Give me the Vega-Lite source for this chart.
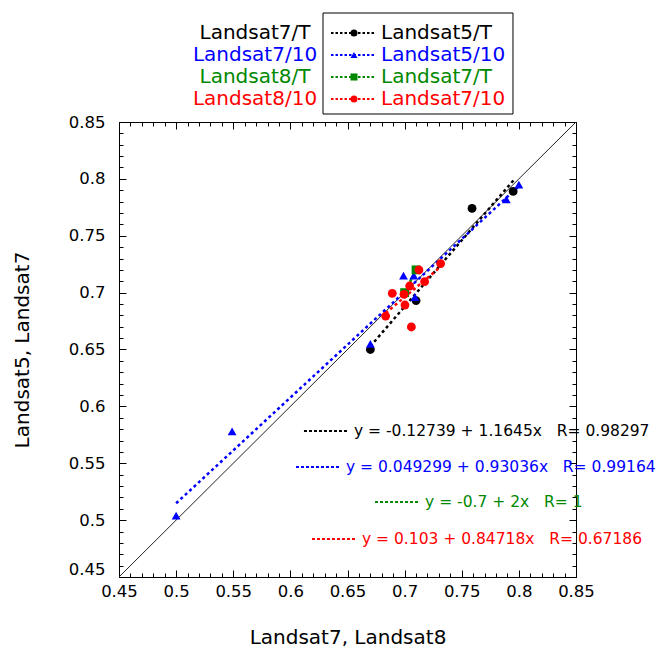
{
  "$schema": "https://vega.github.io/schema/vega-lite/v6.json",
  "background": "white",
  "padding": {"left": 12, "top": 12, "right": 0, "bottom": 0},
  "spacing": 8,
  "bounds": "flush",
  "config": {
    "view": {"stroke": null},
    "font": "DejaVu Sans",
    "axis": {"domainColor": "black", "tickColor": "black", "labelColor": "black", "titleColor": "black", "grid": false, "labelFont": "DejaVu Sans", "titleFont": "DejaVu Sans", "titleFontWeight": "normal", "domainWidth": 1, "tickWidth": 1}
  },
  "datasets": {
    "legend": [
      {"row": 1, "series": "Landsat5/T", "xname": "Landsat7/T"},
      {"row": 2, "series": "Landsat5/10", "xname": "Landsat7/10"},
      {"row": 3, "series": "Landsat7/T", "xname": "Landsat8/T"},
      {"row": 4, "series": "Landsat7/10", "xname": "Landsat8/10"}
    ],
    "points": [
      {"series": "Landsat5/T", "x": 0.67, "y": 0.65},
      {"series": "Landsat5/T", "x": 0.71, "y": 0.693},
      {"series": "Landsat5/T", "x": 0.759, "y": 0.774},
      {"series": "Landsat5/T", "x": 0.795, "y": 0.789},
      {"series": "Landsat5/10", "x": 0.5, "y": 0.504},
      {"series": "Landsat5/10", "x": 0.549, "y": 0.578},
      {"series": "Landsat5/10", "x": 0.67, "y": 0.655},
      {"series": "Landsat5/10", "x": 0.699, "y": 0.715},
      {"series": "Landsat5/10", "x": 0.708, "y": 0.715},
      {"series": "Landsat5/10", "x": 0.709, "y": 0.696},
      {"series": "Landsat5/10", "x": 0.789, "y": 0.782},
      {"series": "Landsat5/10", "x": 0.8, "y": 0.795},
      {"series": "Landsat7/T", "x": 0.7, "y": 0.7},
      {"series": "Landsat7/T", "x": 0.71, "y": 0.72},
      {"series": "Landsat7/10", "x": 0.7125, "y": 0.72},
      {"series": "Landsat7/10", "x": 0.7315, "y": 0.7255},
      {"series": "Landsat7/10", "x": 0.7175, "y": 0.7096},
      {"series": "Landsat7/10", "x": 0.7044, "y": 0.7058},
      {"series": "Landsat7/10", "x": 0.6892, "y": 0.6994},
      {"series": "Landsat7/10", "x": 0.6995, "y": 0.6985},
      {"series": "Landsat7/10", "x": 0.7003, "y": 0.6891},
      {"series": "Landsat7/10", "x": 0.6834, "y": 0.6794},
      {"series": "Landsat7/10", "x": 0.7059, "y": 0.6698}
    ],
    "fits": [
      {"series": "Landsat5/T", "x": 0.67, "y": 0.65283},
      {"series": "Landsat5/T", "x": 0.796, "y": 0.79955},
      {"series": "Landsat5/10", "x": 0.5, "y": 0.51482},
      {"series": "Landsat5/10", "x": 0.8, "y": 0.79359},
      {"series": "Landsat7/T", "x": 0.7, "y": 0.7},
      {"series": "Landsat7/T", "x": 0.71, "y": 0.72},
      {"series": "Landsat7/10", "x": 0.6834, "y": 0.68196},
      {"series": "Landsat7/10", "x": 0.7315, "y": 0.72272}
    ],
    "identity": [{"x": 0.45, "y": 0.45}, {"x": 0.85, "y": 0.85}],
    "notes": [
      {"series": "Landsat5/T", "ax": 0.6119, "ay": 0.57835, "label": "y = -0.12739 + 1.1645x\u00a0\u00a0\u00a0R= 0.98297"},
      {"series": "Landsat5/10", "ax": 0.6049, "ay": 0.5467, "label": "y = 0.049299 + 0.93036x\u00a0\u00a0\u00a0R= 0.99164"},
      {"series": "Landsat7/T", "ax": 0.6741, "ay": 0.51593, "label": "y = -0.7 + 2x\u00a0\u00a0\u00a0R= 1"},
      {"series": "Landsat7/10", "ax": 0.6189, "ay": 0.48341, "label": "y = 0.103 + 0.84718x\u00a0\u00a0\u00a0R= 0.67186"}
    ]
  },
  "vconcat": [
    {
      "width": 457,
      "height": 101,
      "data": {"name": "legend"},
      "layer": [
        {
          "data": {"values": [{}]},
          "mark": {"type": "rect", "fillOpacity": 0, "stroke": "black", "strokeWidth": 1},
          "encoding": {
            "x": {"datum": 0.4464, "type": "quantitative", "scale": {"domain": [0, 1], "nice": false, "zero": false}, "axis": null},
            "x2": {"datum": 0.8621},
            "y": {"datum": 0.091, "type": "quantitative", "scale": {"domain": [0.091, 4.682], "nice": false, "zero": false, "reverse": true}, "axis": null},
            "y2": {"datum": 4.682}
          }
        },
        {
          "mark": {"type": "text", "align": "center", "baseline": "middle", "fontSize": 20, "font": "DejaVu Sans"},
          "encoding": {
            "x": {"datum": 0.2976, "type": "quantitative"},
            "y": {"field": "row", "type": "quantitative"},
            "text": {"field": "xname"},
            "color": {"field": "series", "type": "nominal", "scale": {"domain": ["Landsat5/T", "Landsat5/10", "Landsat7/T", "Landsat7/10"], "range": ["#000000", "#0000ff", "#008800", "#ff0000"]}, "legend": null}
          }
        },
        {
          "mark": {"type": "rule", "strokeDash": [2.5, 2], "strokeWidth": 2},
          "encoding": {
            "x": {"datum": 0.4639, "type": "quantitative"},
            "x2": {"datum": 0.5624},
            "y": {"field": "row", "type": "quantitative"},
            "color": {"field": "series", "type": "nominal", "legend": null}
          }
        },
        {
          "mark": {"type": "point", "filled": true, "opacity": 1, "size": 50},
          "encoding": {
            "x": {"datum": 0.5142, "type": "quantitative"},
            "y": {"field": "row", "type": "quantitative"},
            "color": {"field": "series", "type": "nominal", "legend": null},
            "shape": {"field": "series", "type": "nominal", "scale": {"domain": ["Landsat5/T", "Landsat5/10", "Landsat7/T", "Landsat7/10"], "range": ["circle", "triangle-up", "square", "circle"]}, "legend": null}
          }
        },
        {
          "mark": {"type": "text", "align": "left", "baseline": "middle", "fontSize": 20, "font": "DejaVu Sans"},
          "encoding": {
            "x": {"datum": 0.5733, "type": "quantitative"},
            "y": {"field": "row", "type": "quantitative"},
            "text": {"field": "series"},
            "color": {"field": "series", "type": "nominal", "legend": null}
          }
        }
      ]
    },
    {
      "width": 457,
      "height": 455,
      "layer": [
        {
          "data": {"name": "identity"},
          "mark": {"type": "line", "color": "#222222", "strokeWidth": 1},
          "encoding": {
            "x": {"field": "x", "type": "quantitative", "scale": {"domain": [0.45, 0.85], "nice": false, "zero": false},
              "axis": {"orient": "bottom", "values": [0.45, 0.5, 0.55, 0.6, 0.65, 0.7, 0.75, 0.8, 0.85], "format": "~g", "ticks": false, "labelFlush": false, "labelFontSize": 16.5, "labelPadding": 6, "title": "Landsat7, Landsat8", "titleFontSize": 20, "titlePadding": 28}},
            "y": {"field": "y", "type": "quantitative", "scale": {"domain": [0.45, 0.85], "nice": false, "zero": false},
              "axis": {"orient": "left", "values": [0.45, 0.5, 0.55, 0.6, 0.65, 0.7, 0.75, 0.8, 0.85], "format": "~g", "ticks": false, "labelFlush": false, "labelFontSize": 16.5, "labelPadding": 14, "labelBaseline": {"condition": {"test": "datum.value < 0.46", "value": "bottom"}, "value": "middle"}, "title": "Landsat5, Landsat7", "titleFontSize": 20, "titlePadding": 36}}
          }
        },
        {
          "data": {"name": "fits"},
          "mark": {"type": "line", "strokeDash": [3, 3], "strokeWidth": 2.5},
          "encoding": {
            "x": {"field": "x", "type": "quantitative", "scale": {"domain": [0.45, 0.85], "nice": false, "zero": false},
              "axis": {"orient": "bottom", "values": [0.45, 0.5, 0.55, 0.6, 0.65, 0.7, 0.75, 0.8, 0.85], "labels": false, "domain": false, "title": null, "tickSize": -7}},
            "y": {"field": "y", "type": "quantitative", "scale": {"domain": [0.45, 0.85], "nice": false, "zero": false},
              "axis": {"orient": "left", "values": [0.45, 0.5, 0.55, 0.6, 0.65, 0.7, 0.75, 0.8, 0.85], "labels": false, "domain": false, "title": null, "tickSize": -7}},
            "color": {"field": "series", "type": "nominal", "legend": null}
          }
        },
        {
          "data": {"name": "points"},
          "mark": {"type": "point", "filled": true, "opacity": 1, "size": 78},
          "encoding": {
            "x": {"field": "x", "type": "quantitative", "scale": {"domain": [0.45, 0.85], "nice": false, "zero": false},
              "axis": {"orient": "bottom", "values": [0.45, 0.46, 0.47, 0.48, 0.49, 0.5, 0.51, 0.52, 0.53, 0.54, 0.55, 0.56, 0.57, 0.58, 0.59, 0.6, 0.61, 0.62, 0.63, 0.64, 0.65, 0.66, 0.67, 0.68, 0.69, 0.7, 0.71, 0.72, 0.73, 0.74, 0.75, 0.76, 0.77, 0.78, 0.79, 0.8, 0.81, 0.82, 0.83, 0.84, 0.85], "labels": false, "domain": false, "title": null, "tickSize": -4}},
            "y": {"field": "y", "type": "quantitative", "scale": {"domain": [0.45, 0.85], "nice": false, "zero": false},
              "axis": {"orient": "left", "values": [0.45, 0.46, 0.47, 0.48, 0.49, 0.5, 0.51, 0.52, 0.53, 0.54, 0.55, 0.56, 0.57, 0.58, 0.59, 0.6, 0.61, 0.62, 0.63, 0.64, 0.65, 0.66, 0.67, 0.68, 0.69, 0.7, 0.71, 0.72, 0.73, 0.74, 0.75, 0.76, 0.77, 0.78, 0.79, 0.8, 0.81, 0.82, 0.83, 0.84, 0.85], "labels": false, "domain": false, "title": null, "tickSize": -4}},
            "color": {"field": "series", "type": "nominal", "legend": null},
            "shape": {"field": "series", "type": "nominal", "legend": null}
          }
        },
        {
          "data": {"name": "notes"},
          "mark": {"type": "rule", "strokeDash": [3, 2], "strokeWidth": 2, "x2Offset": 43},
          "encoding": {
            "x": {"field": "ax", "type": "quantitative", "scale": {"domain": [0.45, 0.85], "nice": false, "zero": false},
              "axis": {"orient": "top", "values": [0.45, 0.5, 0.55, 0.6, 0.65, 0.7, 0.75, 0.8, 0.85], "labels": false, "domain": true, "title": null, "tickSize": -7}},
            "x2": {"field": "ax"},
            "y": {"field": "ay", "type": "quantitative", "scale": {"domain": [0.45, 0.85], "nice": false, "zero": false},
              "axis": {"orient": "right", "values": [0.45, 0.5, 0.55, 0.6, 0.65, 0.7, 0.75, 0.8, 0.85], "labels": false, "domain": true, "title": null, "tickSize": -7}},
            "color": {"field": "series", "type": "nominal", "legend": null}
          }
        },
        {
          "data": {"name": "notes"},
          "mark": {"type": "text", "align": "left", "baseline": "middle", "dx": 50, "fontSize": 15.5, "font": "DejaVu Sans"},
          "encoding": {
            "x": {"field": "ax", "type": "quantitative", "scale": {"domain": [0.45, 0.85], "nice": false, "zero": false},
              "axis": {"orient": "top", "values": [0.45, 0.46, 0.47, 0.48, 0.49, 0.5, 0.51, 0.52, 0.53, 0.54, 0.55, 0.56, 0.57, 0.58, 0.59, 0.6, 0.61, 0.62, 0.63, 0.64, 0.65, 0.66, 0.67, 0.68, 0.69, 0.7, 0.71, 0.72, 0.73, 0.74, 0.75, 0.76, 0.77, 0.78, 0.79, 0.8, 0.81, 0.82, 0.83, 0.84, 0.85], "labels": false, "domain": false, "title": null, "tickSize": -4}},
            "y": {"field": "ay", "type": "quantitative", "scale": {"domain": [0.45, 0.85], "nice": false, "zero": false},
              "axis": {"orient": "right", "values": [0.45, 0.46, 0.47, 0.48, 0.49, 0.5, 0.51, 0.52, 0.53, 0.54, 0.55, 0.56, 0.57, 0.58, 0.59, 0.6, 0.61, 0.62, 0.63, 0.64, 0.65, 0.66, 0.67, 0.68, 0.69, 0.7, 0.71, 0.72, 0.73, 0.74, 0.75, 0.76, 0.77, 0.78, 0.79, 0.8, 0.81, 0.82, 0.83, 0.84, 0.85], "labels": false, "domain": false, "title": null, "tickSize": -4}},
            "text": {"field": "label"},
            "color": {"field": "series", "type": "nominal", "legend": null}
          }
        }
      ],
      "resolve": {"axis": {"x": "independent", "y": "independent"}}
    }
  ]
}
